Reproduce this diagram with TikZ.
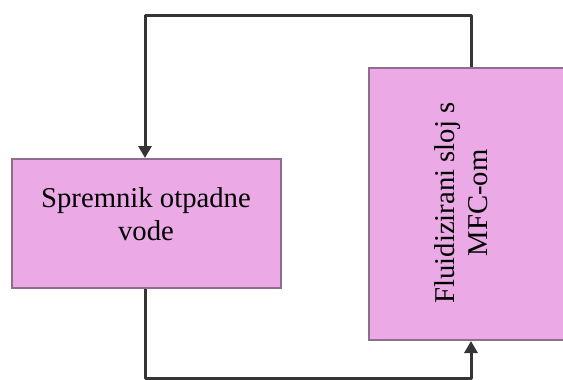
\documentclass[tikz,border=0pt]{standalone}
\usepackage{fontspec}
\setmainfont{Liberation Serif}
\usetikzlibrary{arrows.meta}
\definecolor{boxfill}{HTML}{EBA9E6}
\definecolor{boxline}{HTML}{8E6E8C}
\definecolor{flowline}{HTML}{353535}
\tikzset{
  blockbox/.style={draw=boxline, line width=2pt, fill=boxfill, rectangle, inner sep=0pt},
  blocktext/.style={font=\fontsize{28.7}{33}\selectfont, align=center, inner sep=0pt},
  flow/.style={draw=flowline, line width=3pt, line join=round, -{Triangle[width=13pt,length=12pt]}}
}
\begin{document}
\begin{tikzpicture}[x=1pt,y=-1pt]
\useasboundingbox (0,0) rectangle (563,380);
\clip (0,0) rectangle (563,380);
\node[blockbox, minimum width=269pt, minimum height=129pt] (tank) at (146,223.5) {};
\node[blocktext] (tanktext) at (146,214) {Spremnik otpadne\\vode};
\node[blockbox, minimum width=210pt, minimum height=272pt] (mfc) at (474,204) {};
\node[blocktext, rotate=90] (mfctext) at (461,203) {Fluidizirani sloj s\\MFC-om};
\coordinate (tr) at (471,15);
\coordinate (tl) at (145,15);
\coordinate (bl) at (145,378);
\coordinate (br) at (471,378);
\draw[flow] (mfc.north -| tr) -- (tr) -- (tl) -- (tank.north -| tl);
\draw[flow] (tank.south -| bl) -- (bl) -- (br) -- (mfc.south -| br);
\end{tikzpicture}
\end{document}
